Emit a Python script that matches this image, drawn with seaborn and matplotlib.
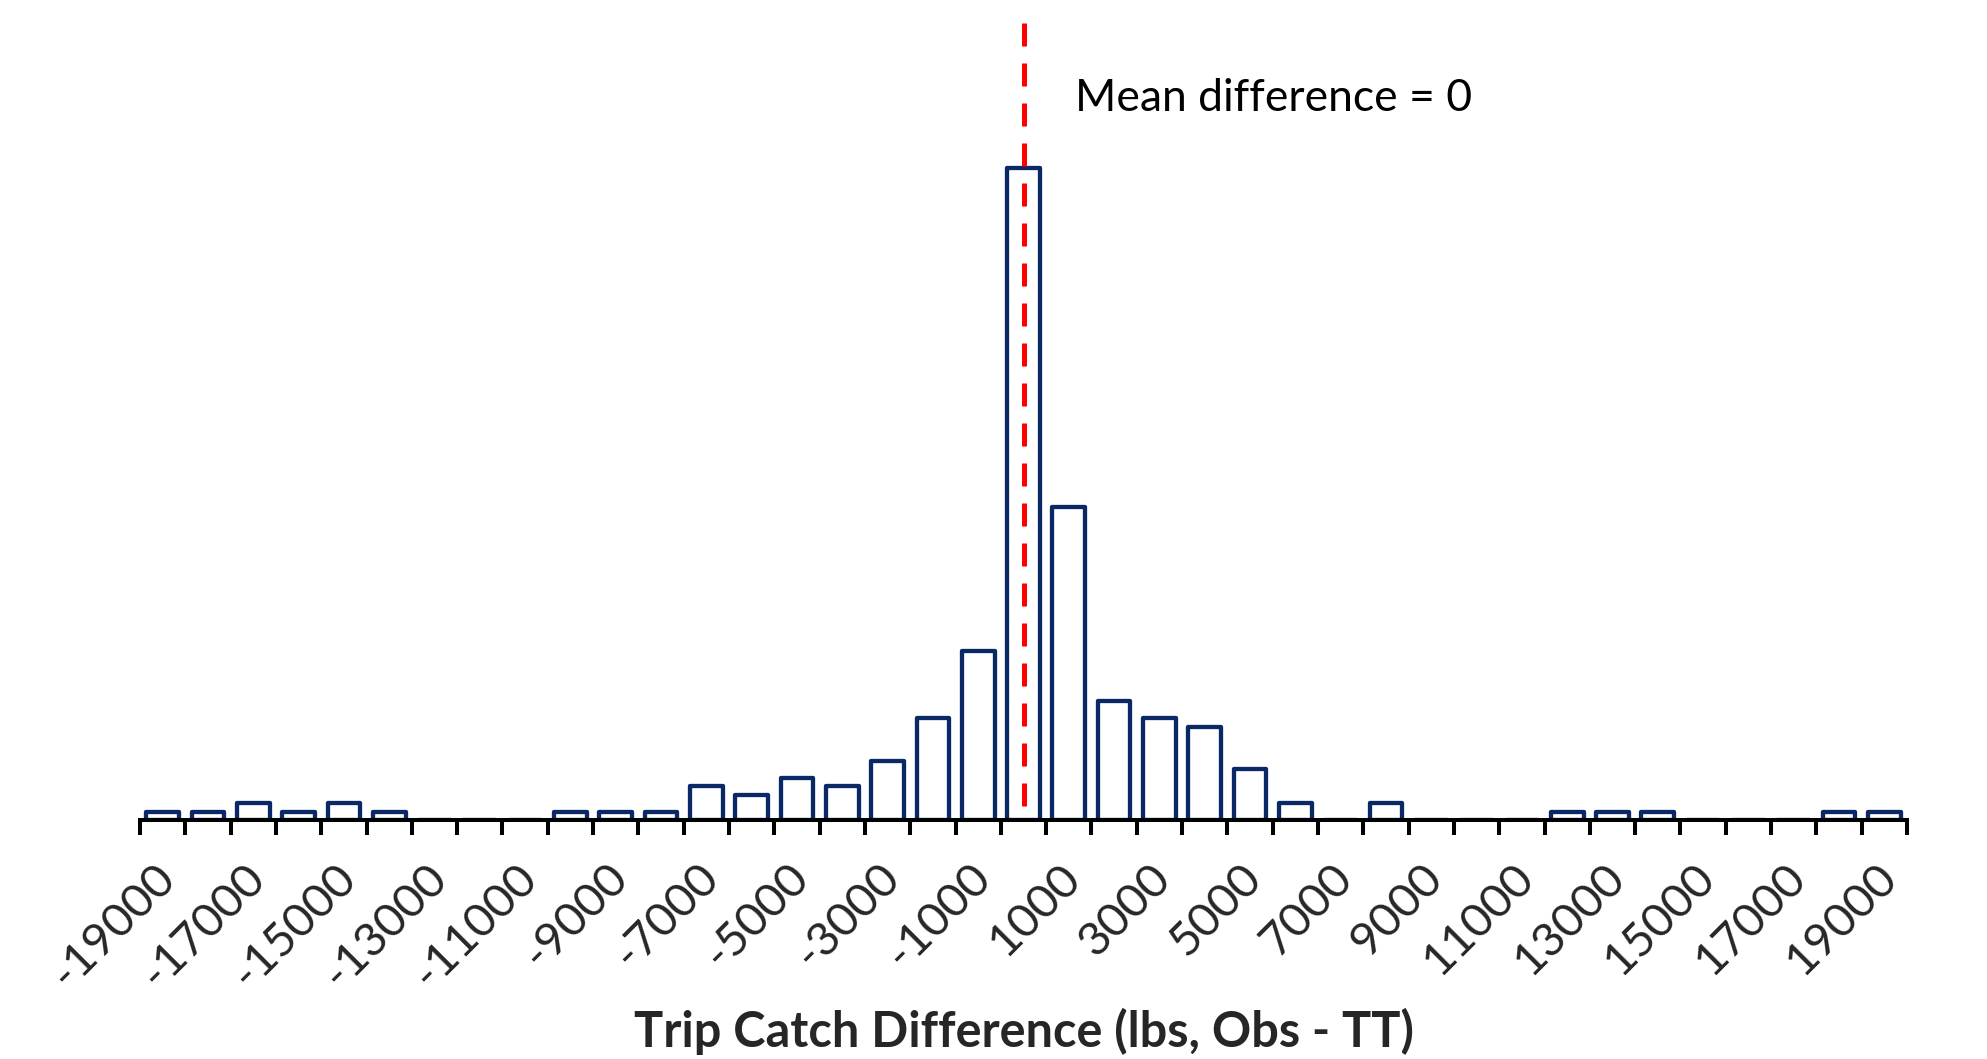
import matplotlib
matplotlib.use("Agg")
import matplotlib.pyplot as plt
import matplotlib.transforms as mtransforms
import seaborn as sns
import pandas as pd
import numpy as np

# ---- data ----
bin_values = list(range(-19000, 20000, 1000))
counts = [1, 1, 2, 1, 2, 1, 0, 0, 0, 1, 1, 1, 4, 3, 5, 4, 7, 12, 20, 77,
          37, 14, 12, 11, 6, 2, 0, 2, 0, 0, 0, 1, 1, 1, 0, 0, 0, 1, 1]
bin_labels = [str(v) for v in bin_values]
shown_labels = bin_labels[::2]
mean_difference = 0
annotation = "Mean difference = 0"
x_title = "Trip Catch Difference (lbs, Obs - TT)"

df = pd.DataFrame({"bin": bin_labels, "count": counts})

sns.set_theme(style="white")
plt.rcParams["font.family"] = ["Lato", "DejaVu Sans"]

W, H = 1987, 1059
fig = plt.figure(figsize=(W / 100, H / 100), dpi=100)
ax = fig.add_axes([140 / W, (H - 820) / H, (1907 - 140) / W, (820 - 23) / H])

NAVY = "#0a2866"
sns.barplot(data=df, x="bin", y="count", order=bin_labels, color="white",
            saturation=1, edgecolor=NAVY, linewidth=3.1, width=0.72, ax=ax)
for p in ax.patches:
    p.set_joinstyle("round")

ax.set_xlim(-0.5, len(bin_labels) - 0.5)
ax.set_ylim(0, (820 - 23) / 8.47)

# mean line
pos = bin_labels.index(str(mean_difference))
ax.plot([pos, pos], [1, 0], transform=ax.get_xaxis_transform(), color="red",
        lw=3.6, ls=(0, (4.6, 3.4)), zorder=6, dash_capstyle="butt")

# axes styling
for s in ["left", "right", "top"]:
    ax.spines[s].set_visible(False)
ax.spines["bottom"].set_color("black")
ax.spines["bottom"].set_linewidth(2.9)
ax.spines["bottom"].set_zorder(5)
ax.set_yticks([])
ax.set_ylabel("")

ax.set_xticks(np.arange(-0.5, len(bin_labels), 1.0))
ax.set_xticklabels([])
ax.tick_params(axis="x", which="major", direction="out", length=11, width=2.9,
               color="black", bottom=True)
ax.set_xticks(np.arange(0, len(bin_labels), 2), minor=True)
ax.set_xticklabels(shown_labels, minor=True, fontsize=34)
ax.tick_params(axis="x", which="minor", length=0, pad=37, bottom=True)
offset = mtransforms.ScaledTranslation(5 / 100, 0, fig.dpi_scale_trans)
for lab in ax.get_xticklabels(minor=True):
    lab.set_rotation(45)
    lab.set_ha("right")
    lab.set_va("center")
    lab.set_rotation_mode("anchor")
    lab.set_transform(lab.get_transform() + offset)

ax.set_xlabel(x_title, fontsize=35, fontweight="bold", va="baseline")
ax.xaxis.set_label_coords(0.5, (820 - 1047) / (820 - 23))

fig.text(1075 / W, 1 - 111 / H, annotation, fontsize=32, va="baseline",
         ha="left", color="black")

fig.savefig("out.png", dpi=100, facecolor="white")
